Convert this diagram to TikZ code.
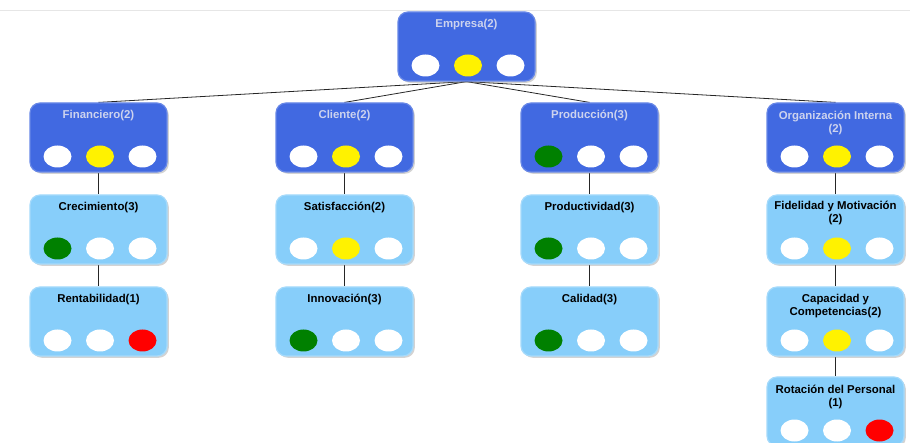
\documentclass[tikz,border=0pt]{standalone}
\usepackage{fontspec}
\setmainfont{Liberation Sans}
\usetikzlibrary{shapes.geometric,shadows,backgrounds}
\definecolor{darkbox}{HTML}{4169E1}
\definecolor{lightbox}{HTML}{87CEFA}
\definecolor{darktext}{HTML}{CDD3EE}
\definecolor{okgreen}{HTML}{008000}
\definecolor{topline}{HTML}{E6E6E6}
\tikzset{
  kpibox/.style={rounded corners=10pt, minimum width=137pt, minimum height=69pt, inner sep=0pt, line width=1.2pt,
    drop shadow={shadow xshift=1.8pt, shadow yshift=-1.8pt, opacity=0.35}},
  darkkpi/.style={kpibox, fill=darkbox, draw=darkbox!80!white},
  lightkpi/.style={kpibox, fill=lightbox, draw=lightbox!75!white},
  lamp/.style={ellipse, minimum width=28pt, minimum height=22pt, inner sep=0pt, draw=none},
  darktitle/.style={font=\bfseries\fontsize{11.4}{13.3}\selectfont, text=darktext, align=center, inner sep=0pt},
  lighttitle/.style={font=\bfseries\fontsize{11.4}{13.3}\selectfont, text=black, align=center, inner sep=0pt},
  link/.style={draw=black!85, line width=0.8pt}
}
% #1 name, #2 x centre, #3 y top, #4 dark/light, #5 title, #6 title y offset, #7 #8 #9 lamp colours
\newcommand{\kpinode}[9]{%
  \node[#4kpi] (#1) at (#2,{#3+34.5}) {};
  \node[#4title] (#1-t) at (#2,{#3+#6}) {#5};
  \node[lamp, fill=#7] (#1-a) at ({#2-41},{#3+53.5}) {};
  \node[lamp, fill=#8] (#1-b) at ({#2+1.5},{#3+53.5}) {};
  \node[lamp, fill=#9] (#1-c) at ({#2+44},{#3+53.5}) {};
}
\begin{document}
\begin{tikzpicture}[x=1pt,y=-1pt]
  \useasboundingbox (0,0) rectangle (910,443);
  \draw[topline, line width=0.8pt] (0,10) -- (910,10);

  \kpinode{emp}{466.5}{12}{dark}{Empresa(2)}{13}{white}{yellow}{white}

  \kpinode{fin}{98.5}{103}{dark}{Financiero(2)}{13}{white}{yellow}{white}
  \kpinode{cli}{344.5}{103}{dark}{Cliente(2)}{13}{white}{yellow}{white}
  \kpinode{pro}{589.5}{103}{dark}{Producción(3)}{13}{okgreen}{white}{white}
  \kpinode{org}{835.5}{103}{dark}{Organización Interna\\(2)}{20}{white}{yellow}{white}

  \kpinode{cre}{98.5}{195}{light}{Crecimiento(3)}{13}{okgreen}{white}{white}
  \kpinode{sat}{344.5}{195}{light}{Satisfacción(2)}{13}{white}{yellow}{white}
  \kpinode{prd}{589.5}{195}{light}{Productividad(3)}{13}{okgreen}{white}{white}
  \kpinode{fid}{835.5}{195}{light}{Fidelidad y Motivación\\(2)}{18}{white}{yellow}{white}

  \kpinode{ren}{98.5}{287}{light}{Rentabilidad(1)}{13}{white}{white}{red}
  \kpinode{inn}{344.5}{287}{light}{Innovación(3)}{13}{okgreen}{white}{white}
  \kpinode{cal}{589.5}{287}{light}{Calidad(3)}{13}{okgreen}{white}{white}
  \kpinode{cap}{835.5}{287}{light}{Capacidad y\\Competencias(2)}{19}{white}{yellow}{white}

  \kpinode{rot}{835.5}{377}{light}{Rotación del Personal\\(1)}{20}{white}{white}{red}

  \begin{scope}[on background layer]
    \draw[link] (emp.south) -- (fin.north);
    \draw[link] (emp.south) -- (cli.north);
    \draw[link] (emp.south) -- (pro.north);
    \draw[link] (emp.south) -- (org.north);
    \draw[link] (fin.south) -- (cre.north);
    \draw[link] (cre.south) -- (ren.north);
    \draw[link] (cli.south) -- (sat.north);
    \draw[link] (sat.south) -- (inn.north);
    \draw[link] (pro.south) -- (prd.north);
    \draw[link] (prd.south) -- (cal.north);
    \draw[link] (org.south) -- (fid.north);
    \draw[link] (fid.south) -- (cap.north);
    \draw[link] (cap.south) -- (rot.north);
  \end{scope}
\end{tikzpicture}
\end{document}
